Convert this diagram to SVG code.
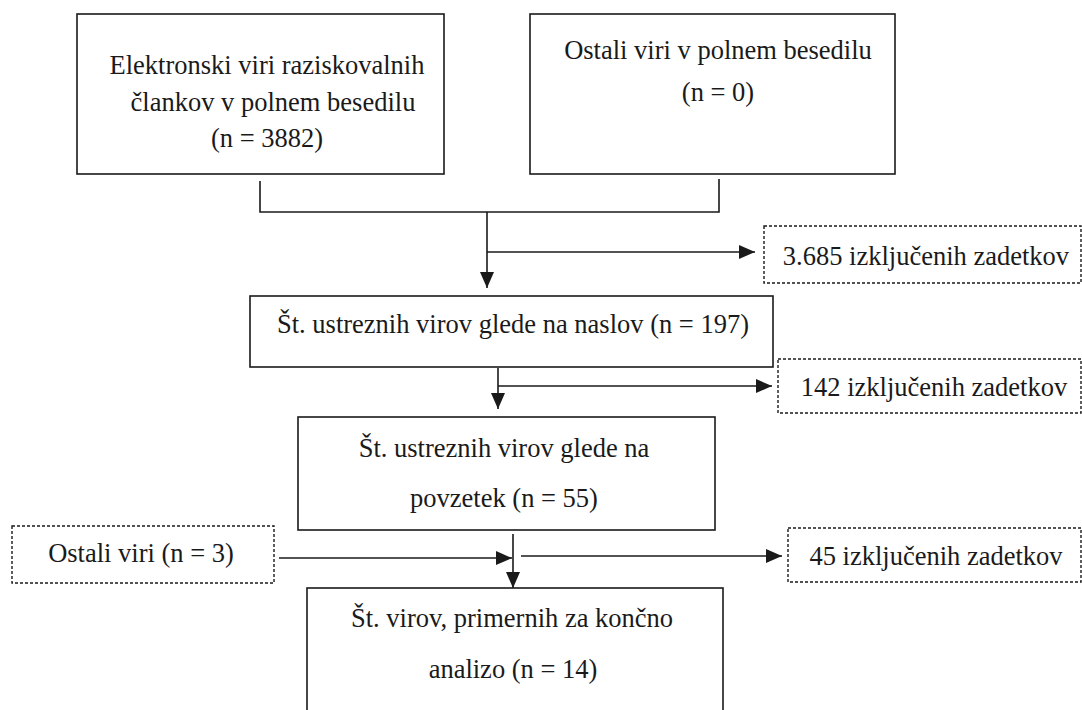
<svg xmlns="http://www.w3.org/2000/svg" width="1082" height="710" viewBox="0 0 1082 710">
<style>
.box{fill:#fff;stroke:#1a1a1a;stroke-width:1.6}
.dbox{fill:#fff;stroke:#1a1a1a;stroke-width:1.4;stroke-dasharray:3 2}
.ln{fill:none;stroke:#1a1a1a;stroke-width:1.6}
.t{font-family:'Liberation Serif','Tinos','DejaVu Serif',serif;font-size:26.5px;fill:#1a1a1a;text-anchor:middle}
</style>
<defs>
<marker id="ah" markerUnits="userSpaceOnUse" markerWidth="17" markerHeight="14" refX="16" refY="7" orient="auto">
<path d="M0,0 L16,7 L0,14 Z" fill="#1a1a1a"/>
</marker>
</defs>
<rect width="1082" height="710" fill="#fff"/>
<g id="connectors">
<path class="ln" d="M260,181 V212 H719 V179"/>
<path class="ln" d="M487,212 V288" marker-end="url(#ah)"/>
<path class="ln" d="M487,252 H755" marker-end="url(#ah)"/>
<path class="ln" d="M498,368 V409" marker-end="url(#ah)"/>
<path class="ln" d="M498,386 H772" marker-end="url(#ah)"/>
<path class="ln" d="M513,534 V588" marker-end="url(#ah)"/>
<path class="ln" d="M279,558 H512" marker-end="url(#ah)"/>
<path class="ln" d="M521,556 H782" marker-end="url(#ah)"/>
</g>
<g id="n1">
<rect class="box" x="77" y="14" width="367" height="160"/>
<text class="t" x="267" y="74">Elektronski viri raziskovalnih</text>
<text class="t" x="273" y="111">člankov v polnem besedilu</text>
<text class="t" x="267" y="147">(n = 3882)</text>
</g>
<g id="n2">
<rect class="box" x="530" y="14" width="365" height="160"/>
<text class="t" x="718" y="59">Ostali viri v polnem besedilu</text>
<text class="t" x="718" y="101">(n = 0)</text>
</g>
<g id="x1">
<rect class="dbox" x="764" y="226" width="317" height="57"/>
<text class="t" x="926" y="265">3.685 izključenih zadetkov</text>
</g>
<g id="n3">
<rect class="box" x="250" y="296" width="523" height="71"/>
<text class="t" x="513" y="333">Št. ustreznih virov glede na naslov (n = 197)</text>
</g>
<g id="x2">
<rect class="dbox" x="778" y="359" width="303" height="54"/>
<text class="t" x="934" y="396">142 izključenih zadetkov</text>
</g>
<g id="n4">
<rect class="box" x="298" y="417" width="417" height="113"/>
<text class="t" x="504" y="457">Št. ustreznih virov glede na</text>
<text class="t" x="504" y="507">povzetek (n = 55)</text>
</g>
<g id="s1">
<rect class="dbox" x="12" y="526" width="262" height="57"/>
<text class="t" x="141" y="562">Ostali viri (n = 3)</text>
</g>
<g id="x3">
<rect class="dbox" x="788" y="528" width="293" height="54"/>
<text class="t" x="936" y="565">45 izključenih zadetkov</text>
</g>
<g id="n5">
<rect class="box" x="307" y="588" width="416" height="140"/>
<text class="t" x="512" y="627">Št. virov, primernih za končno</text>
<text class="t" x="513" y="678">analizo (n = 14)</text>
</g>
</svg>
